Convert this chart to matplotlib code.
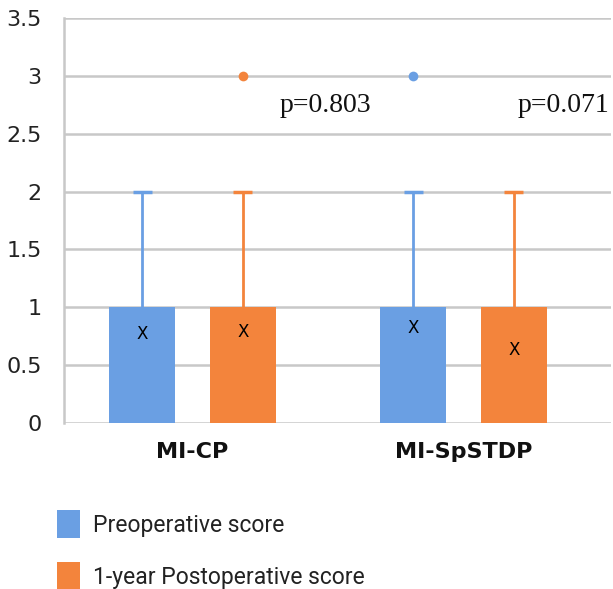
import matplotlib
matplotlib.use("Agg")
import matplotlib.pyplot as plt
from matplotlib.patches import Patch

# ---- data ----
categories = ["MI-CP", "MI-SpSTDP"]
series_names = ["Preoperative score", "1-year Postoperative score"]
pre_q1 = [0, 0]
pre_q3 = [1, 1]
pre_whisker_hi = [2, 2]
pre_mean = [0.77, 0.82]
pre_outliers = [[], [3]]
post_q1 = [0, 0]
post_q3 = [1, 1]
post_whisker_hi = [2, 2]
post_mean = [0.79, 0.63]
post_outliers = [[3], []]
p_labels = ["p=0.803", "p=0.071"]
y_ticks = [0, 0.5, 1, 1.5, 2, 2.5, 3, 3.5]
y_tick_labels = ["0", "0.5", "1", "1.5", "2", "2.5", "3", "3.5"]

colors = ["#6A9FE3", "#F3843C"]
grid_color = "#C8C8C8"

W, H = 613, 589
fig = plt.figure(figsize=(W / 100, H / 100), dpi=100)
ax = fig.add_axes([64 / W, (H - 423) / H, (611 - 64) / W, (423 - 18) / H])

offset = 0.186
width = 0.2435
cap_half = 0.035

series = [
    (pre_q1, pre_q3, pre_whisker_hi, pre_mean, pre_outliers),
    (post_q1, post_q3, post_whisker_hi, post_mean, post_outliers),
]
for s, (q1, q3, whi, mean, outl) in enumerate(series):
    xs = [i + (-offset if s == 0 else offset) for i in range(len(categories))]
    c = colors[s]
    ax.bar(xs, [b - a for a, b in zip(q1, q3)], bottom=q1, width=width,
           color=c, zorder=3, linewidth=0)
    ax.vlines(xs, q3, whi, color=c, linewidth=2, zorder=3)
    ax.hlines(whi, [x - cap_half for x in xs], [x + cap_half for x in xs],
              color=c, linewidth=2.5, zorder=3)
    for x, m in zip(xs, mean):
        ax.text(x, m, "X", ha="center", va="center", fontsize=12,
                family="DejaVu Sans", color="black", zorder=5)
    for x, ol in zip(xs, outl):
        if ol:
            ax.plot([x] * len(ol), ol, "o", color=c, markersize=7,
                    markeredgewidth=0, zorder=4)

# p-values
p_pos = [(0.489, 2.74), (1.369, 2.74)]
for (px, py), lab in zip(p_pos, p_labels):
    ax.text(px, py, lab, ha="center", va="center", fontsize=20,
            family="Liberation Serif", color="#111111", zorder=5)

ax.set_xlim(-0.474, 1.544)
ax.set_ylim(0, 3.5)
ax.set_yticks(y_ticks)
ax.set_yticklabels(y_tick_labels, fontsize=16, color="#222222",
                   family="DejaVu Sans")
ax.yaxis.grid(True, color=grid_color, linewidth=1.8, zorder=0)
ax.set_axisbelow(True)
ax.tick_params(axis="y", length=0, pad=16)
ax.set_xticks(range(len(categories)))
ax.set_xticklabels(categories, fontsize=16, fontweight="bold",
                   family="DejaVu Sans", color="#111111")
ax.tick_params(axis="x", length=0, pad=14)
for sp in ["top", "right", "bottom"]:
    ax.spines[sp].set_visible(False)
ax.spines["left"].set_color(grid_color)
ax.spines["left"].set_linewidth(1.8)

handles = [Patch(facecolor=colors[0], edgecolor="none"),
           Patch(facecolor=colors[1], edgecolor="none")]
leg = fig.legend(handles, series_names, loc="upper left",
                 bbox_to_anchor=(57 / W, 1 - 510 / H), frameon=False,
                 borderpad=0, borderaxespad=0,
                 handlelength=1.0, handleheight=1.5,
                 labelspacing=1.05, handletextpad=0.55,
                 prop={"family": "Roboto", "size": 16.5})
for t in leg.get_texts():
    t.set_color("#222222")

fig.savefig("out.png", dpi=100)
